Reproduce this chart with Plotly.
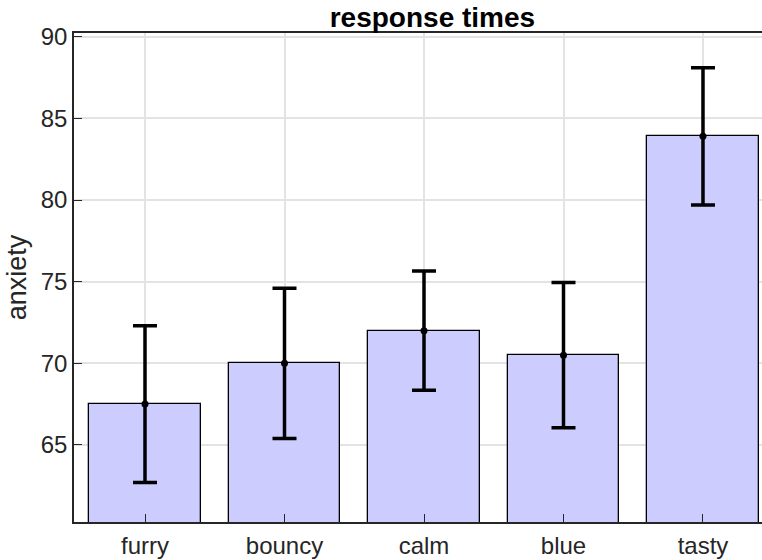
import plotly.graph_objects as go

categories = ["furry", "bouncy", "calm", "blue", "tasty"]
means = [67.5, 70.0, 72.0, 70.5, 83.9]
errors = [4.8, 4.6, 3.65, 4.45, 4.2]
y_ticks = [65, 70, 75, 80, 85, 90]

xpos = list(range(1, len(categories) + 1))
FONT = "Liberation Sans, Arial, sans-serif"
AX = "#262626"

fig = go.Figure()
fig.add_trace(go.Bar(
    x=xpos, y=means, width=0.8,
    marker=dict(color="#ccccff", line=dict(color="black", width=1.3)),
    showlegend=False, hoverinfo="skip",
))
fig.add_trace(go.Scatter(
    x=xpos, y=means, mode="markers",
    marker=dict(color="black", size=7),
    error_y=dict(type="data", array=errors, visible=True,
                 color="black", thickness=3.5, width=12),
    showlegend=False,
))

fig.update_layout(
    width=762, height=560,
    margin=dict(l=74, r=0, t=33, b=38),
    plot_bgcolor="white", paper_bgcolor="white",
    font=dict(family=FONT, size=24, color=AX),
    title=dict(text="response times", x=0.5675, xanchor="center",
               y=0.970, yanchor="middle",
               font=dict(family=FONT, size=28, color="black", weight="bold")),
    bargap=0,
)
fig.update_xaxes(
    range=[0.491, 5.423], tickvals=xpos, ticktext=categories,
    showline=True, linecolor=AX, linewidth=1.6, mirror=True,
    ticks="inside", ticklen=8, tickwidth=1.3, tickcolor=AX,
    showgrid=True, gridcolor="#e3e3e3", gridwidth=1.5,
    zeroline=False, tickfont=dict(size=24, color=AX),
    ticklabelstandoff=1,
)
fig.update_yaxes(
    range=[60.28, 90.23], tickvals=y_ticks,
    showline=True, linecolor=AX, linewidth=1.6, mirror=False,
    ticks="inside", ticklen=8, tickwidth=1.3, tickcolor=AX,
    showgrid=True, gridcolor="#e3e3e3", gridwidth=1.5,
    zeroline=False, tickfont=dict(size=24, color=AX),
    title=dict(text="anxiety", font=dict(size=27, color=AX), standoff=6),
)

fig.write_html("out.html")
